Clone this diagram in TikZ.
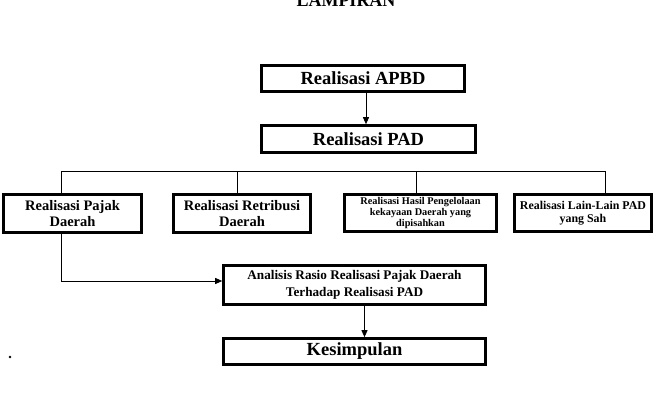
\documentclass[tikz,border=0pt]{standalone}
\usepackage{fontspec}
\setmainfont{Liberation Serif}
\usetikzlibrary{arrows.meta}
\begin{document}
\begin{tikzpicture}[x=1pt,y=-1pt,
  box/.style={draw,line width=2.6pt,inner sep=0pt,align=center,font=\bfseries},
  conn/.style={line width=0.9pt},
  arr/.style={line width=0.9pt,-{Triangle[length=7pt,width=6pt]}}]
\useasboundingbox (0,0) rectangle (662,412);
\node[font=\bfseries\fontsize{18}{20}\selectfont,anchor=base] (title) at (346,7) {LAMPIRAN};
\node[box,minimum width=203pt,minimum height=26pt,font=\bfseries\fontsize{18.5}{20}\selectfont] (apbd) at (363,78.5) {Realisasi APBD};
\node[box,minimum width=214pt,minimum height=27pt,font=\bfseries\fontsize{18.5}{20}\selectfont] (pad) at (368.5,139) {Realisasi PAD};
\node[box,minimum width=138pt,minimum height=38pt,font=\bfseries\fontsize{14.5}{16}\selectfont] (pajak) at (72.5,213.5) {Realisasi Pajak\\Daerah};
\node[box,minimum width=137pt,minimum height=38pt,font=\bfseries\fontsize{14.5}{16}\selectfont] (retri) at (242,213.5) {Realisasi Retribusi\\Daerah};
\node[box,minimum width=152pt,minimum height=37pt,font=\bfseries\fontsize{10.3}{11}\selectfont] (hasil) at (420.5,213) {Realisasi Hasil Pengelolaan\\kekayaan Daerah yang\\dipisahkan};
\node[box,minimum width=137pt,minimum height=37pt,font=\bfseries\fontsize{11.9}{13}\selectfont] (lain) at (583,213) {Realisasi Lain-Lain PAD\\yang Sah};
\node[box,minimum width=262pt,minimum height=39pt,font=\bfseries\fontsize{13.2}{17}\selectfont] (anal) at (354.5,285) {Analisis Rasio Realisasi Pajak Daerah\\Terhadap Realisasi PAD};
\node[box,minimum width=262pt,minimum height=26pt,font=\bfseries\fontsize{18.5}{20}\selectfont] (kes) at (354.5,351.5) {Kesimpulan};
\fill (10,357) circle (1.3pt);
\coordinate (b1) at (61,171);
\coordinate (b2) at (237,171);
\coordinate (b3) at (416,171);
\coordinate (b4) at (605,171);
\draw[arr] ([xshift=3pt]apbd.south) -- ([xshift=3pt]apbd.south |- pad.north);
\draw[conn] (b1) -- (b4);
\draw[conn] (b1) -- (b1 |- pajak.north);
\draw[conn] (b2) -- (b2 |- retri.north);
\draw[conn] (b3) -- (b3 |- hasil.north);
\draw[conn] (b4) -- (b4 |- lain.north);
\draw[arr] (b1 |- pajak.south) |- ([yshift=4pt]anal.west);
\draw[arr] ([xshift=10pt]anal.south) -- ([xshift=10pt]anal.south |- kes.north);
\end{tikzpicture}
\end{document}
